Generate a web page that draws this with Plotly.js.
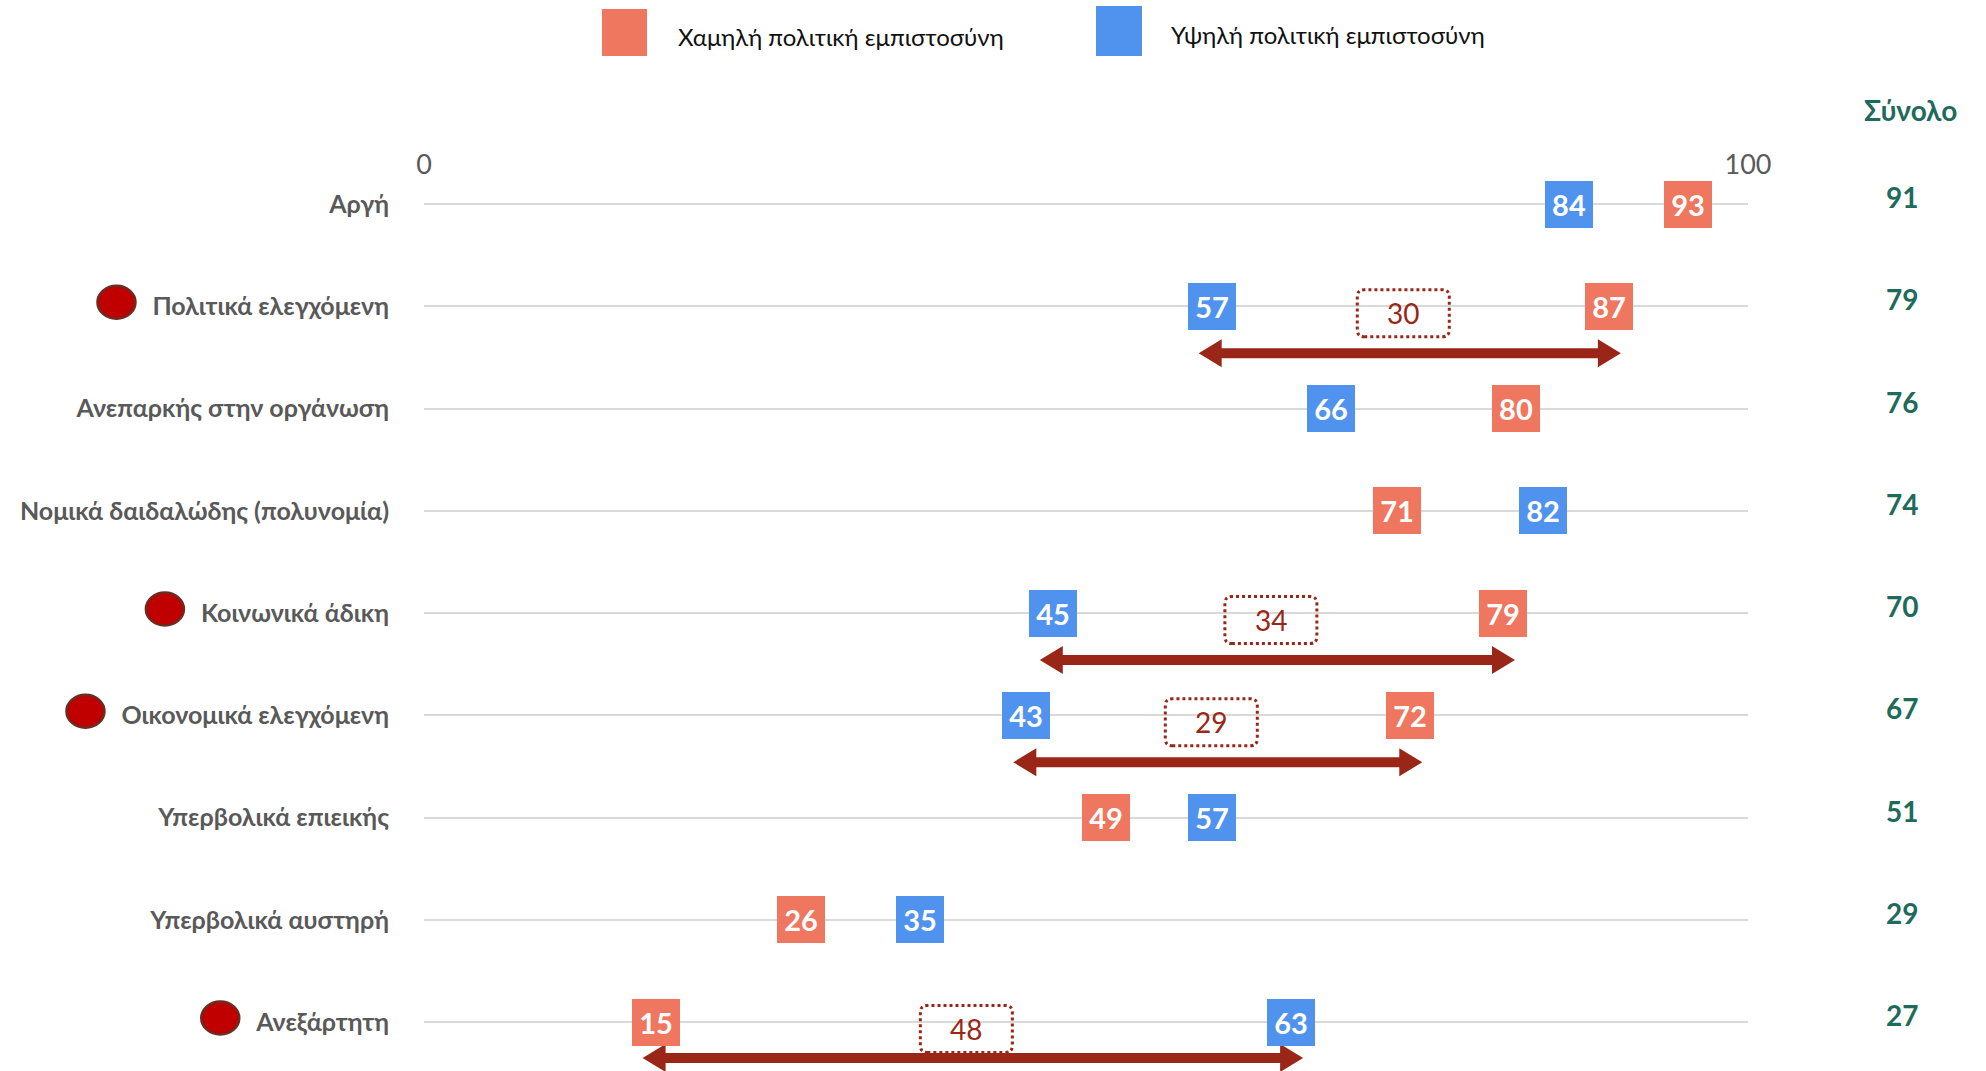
<!DOCTYPE html>
<html><head><meta charset="utf-8">
<script src="https://cdn.plot.ly/plotly-3.0.1.min.js"></script>
<style>html,body{margin:0;padding:0;background:#fff}#chart{width:1986px;height:1071px}</style>
</head><body><div id="chart"></div>
<script>
// ---- data ----
const categories = ['Αργή','Πολιτικά ελεγχόμενη','Ανεπαρκής στην οργάνωση','Νομικά δαιδαλώδης (πολυνομία)','Κοινωνικά άδικη','Οικονομικά ελεγχόμενη','Υπερβολικά επιεικής','Υπερβολικά αυστηρή','Ανεξάρτητη'];
const lowTrust  = [93, 87, 80, 71, 79, 72, 49, 26, 15];
const highTrust = [84, 57, 66, 82, 45, 43, 57, 35, 63];
const totals    = [91, 79, 76, 74, 70, 67, 51, 29, 27];
const gaps      = [null, 30, null, null, 34, 29, null, null, 48];
const flagged   = [false, true, false, false, true, true, false, false, true];
const seriesNames = ['Χαμηλή πολιτική εμπιστοσύνη', 'Υψηλή πολιτική εμπιστοσύνη'];
const totalTitle = 'Σύνολο';
const xTickVals = [0, 100];
const xTickText = ['0', '100'];

// ---- layout helpers ----
const W = 1986, H = 1071, L = 424, R = 1748, T = 180, B = 1071;
const plotW = R - L, plotH = B - T;
const pxX = x => (x - L) / plotW;
const pxY = y => (B - y) / plotH;
const unitPx = plotW / 100;
const rowPx = 102.25;
const yTop = -(204 - T) / rowPx;
const yBot = yTop + plotH / rowPx;
const rowPix = i => T + (i - yTop) * rowPx;
const idx = categories.map((c, i) => i);
const FONT = 'Lato, "Noto Sans", "DejaVu Sans", sans-serif';
const LABEL_SIZE = 25;
const LABEL_RIGHT = 390;
const RED = '#F0775F', BLUE = '#5093EF', TEAL = '#1E6B5C', DARK = '#9A2617', GREY = '#595959';

const ticktext = categories.map(c => '<b>' + c + '</b>');

const traces = [
  {type: 'scatter', mode: 'markers', name: seriesNames[0], x: lowTrust, y: idx,
   marker: {color: RED, opacity: 0, size: 2}, showlegend: false, hoverinfo: 'x+name'},
  {type: 'scatter', mode: 'markers', name: seriesNames[1], x: highTrust, y: idx,
   marker: {color: BLUE, opacity: 0, size: 2}, showlegend: false, hoverinfo: 'x+name'}
];

const annotations = [];
const shapes = [];

function boxAnn(v, i, color) {
  return {x: v, y: i, xref: 'x', yref: 'y', xanchor: 'left', yanchor: 'middle', xshift: 9,
    text: '<b>' + v + '</b>', showarrow: false, bgcolor: color, width: 48, height: 47,
    borderpad: 0, borderwidth: 0, align: 'center', valign: 'middle',
    font: {family: FONT, size: 29, color: '#fff'}};
}
idx.forEach(i => {
  annotations.push(boxAnn(lowTrust[i], i, RED));
  annotations.push(boxAnn(highTrust[i], i, BLUE));
  annotations.push({x: pxX(1902), xref: 'paper', y: i, yref: 'y', text: '<b>' + totals[i] + '</b>',
    showarrow: false, xanchor: 'center', yanchor: 'middle', yshift: 7,
    font: {family: FONT, size: 28, color: TEAL}});
});

function roundRect(cx, cy, w, h, r) {
  const x0 = cx - w / 2, x1 = cx + w / 2, y0 = cy - h / 2, y1 = cy + h / 2;
  return `M${x0 + r},${y0} L${x1 - r},${y0} Q${x1},${y0} ${x1},${y0 + r} L${x1},${y1 - r} Q${x1},${y1} ${x1 - r},${y1} L${x0 + r},${y1} Q${x0},${y1} ${x0},${y1 - r} L${x0},${y0 + r} Q${x0},${y0} ${x0 + r},${y0} Z`;
}

idx.forEach(i => {
  if (gaps[i] === null) return;
  const lo = Math.min(lowTrust[i], highTrust[i]);
  const hi = Math.max(lowTrust[i], highTrust[i]);
  const mid = (lo + hi) / 2;
  shapes.push({type: 'path', xref: 'x', yref: 'y', xsizemode: 'pixel', ysizemode: 'pixel',
    xanchor: mid, yanchor: i, path: roundRect(26, -7, 92, 47, 7),
    line: {color: DARK, width: 3, dash: 'dot'}, fillcolor: 'rgba(0,0,0,0)', layer: 'above'});
  annotations.push({x: mid, y: i, xref: 'x', yref: 'y', xshift: 26, yshift: -7, showarrow: false,
    text: String(gaps[i]), font: {family: FONT, size: 28, color: DARK}});
  // double-headed arrow, kept inside the chart area
  const a = lo + 20 / unitPx, b = hi + 45 / unitPx, hl = 23 / unitPx;
  const y0 = -Math.min(47, (B - rowPix(i)) - 13), sh = 5, hh = 14;
  shapes.push({type: 'path', xref: 'x', yref: 'y', ysizemode: 'pixel', yanchor: i,
    path: `M${a},${y0} L${a + hl},${y0 + hh} L${a + hl},${y0 + sh} L${b - hl},${y0 + sh} L${b - hl},${y0 + hh} L${b},${y0} L${b - hl},${y0 - hh} L${b - hl},${y0 - sh} L${a + hl},${y0 - sh} L${a + hl},${y0 - hh} Z`,
    fillcolor: DARK, line: {width: 0}, layer: 'above'});
});

// red markers in front of the flagged category labels
const ctx = document.createElement('canvas').getContext('2d');
ctx.font = 'bold ' + LABEL_SIZE + 'px ' + FONT;
idx.forEach(i => {
  if (!flagged[i]) return;
  const w = ctx.measureText(categories[i]).width;
  const cx = LABEL_RIGHT - w - 18 - 19;
  const cy = rowPix(i) - 4;
  shapes.push({type: 'circle', xref: 'paper', yref: 'paper',
    x0: pxX(cx - 19), x1: pxX(cx + 19), y0: pxY(cy + 16.5), y1: pxY(cy - 16.5),
    fillcolor: '#C00000', line: {color: '#6B2C22', width: 2.5}});
});

// legend (manual, large swatches)
shapes.push({type: 'rect', xref: 'paper', yref: 'paper', x0: pxX(602), x1: pxX(647), y0: pxY(56), y1: pxY(9),
  fillcolor: RED, line: {width: 0}});
shapes.push({type: 'rect', xref: 'paper', yref: 'paper', x0: pxX(1096), x1: pxX(1142), y0: pxY(56), y1: pxY(6),
  fillcolor: BLUE, line: {width: 0}});
annotations.push({x: pxX(676), y: pxY(37), xref: 'paper', yref: 'paper', xanchor: 'left', yanchor: 'middle',
  showarrow: false, text: seriesNames[0], font: {family: FONT, size: 24, color: '#111'}});
annotations.push({x: pxX(1169), y: pxY(34), xref: 'paper', yref: 'paper', xanchor: 'left', yanchor: 'middle',
  showarrow: false, text: seriesNames[1], font: {family: FONT, size: 24, color: '#111'}});
annotations.push({x: pxX(1910), y: pxY(110), xref: 'paper', yref: 'paper', xanchor: 'center', yanchor: 'middle',
  showarrow: false, text: '<b>' + totalTitle + '</b>', font: {family: FONT, size: 28, color: TEAL}});

const layout = {
  width: W, height: H, margin: {l: L, r: W - R, t: T, b: H - B, pad: 0},
  paper_bgcolor: '#fff', plot_bgcolor: '#fff', showlegend: false,
  font: {family: FONT},
  xaxis: {side: 'top', range: [0, 100], tickvals: xTickVals, ticktext: xTickText, showgrid: false,
    zeroline: false, showline: false, ticks: '', tickfont: {family: FONT, size: 27, color: GREY}, fixedrange: true},
  yaxis: {range: [yBot, yTop], tickvals: idx, ticktext: ticktext, showgrid: true, gridcolor: '#D9D9D9',
    gridwidth: 2, zeroline: false, showline: false, ticks: '', ticklabelstandoff: 34,
    tickfont: {family: FONT, size: LABEL_SIZE, color: GREY}, fixedrange: true},
  annotations: annotations,
  shapes: shapes
};
Plotly.newPlot('chart', traces, layout, {displayModeBar: false, staticPlot: true});
</script></body></html>
